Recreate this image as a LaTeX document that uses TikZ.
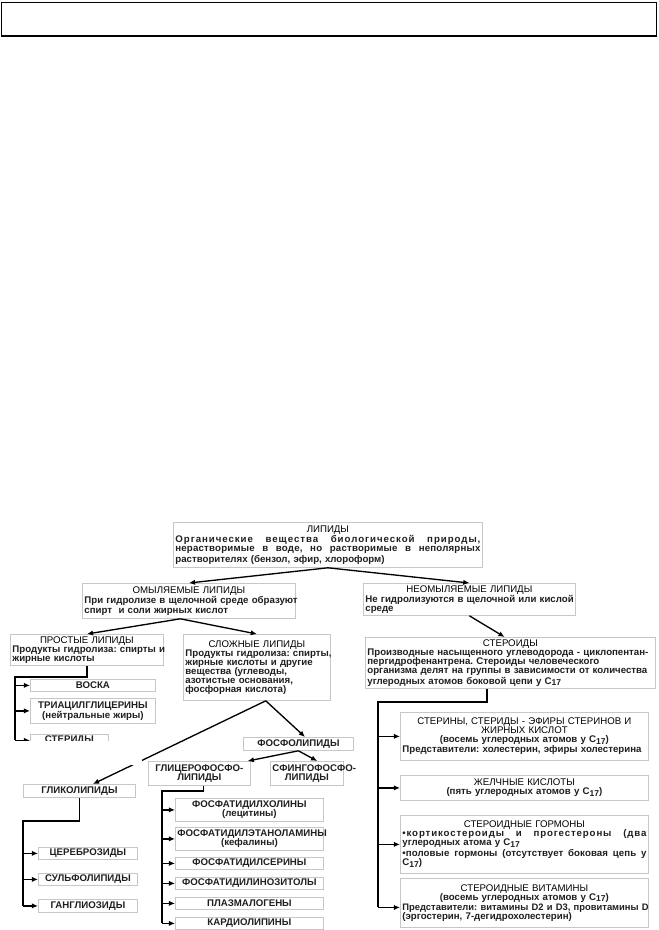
\documentclass[tikz,border=0pt]{standalone}
\usepackage{fontspec}
\setmainfont{Liberation Sans}
\usetikzlibrary{arrows.meta,calc}
\hyphenpenalty=10000
\exhyphenpenalty=10000
\hfuzz=20pt
\newcommand\btitle[1]{{\centering\mdseries\color{black}#1\par}}
\newcommand\bcen[1]{{\centering #1\par}}
\newcommand\bcenx[1]{{\centering #1\par}\vspace{0.9pt}}
\newcommand\lin[1]{\mbox{#1}\par}
\newcommand\jus[2][0]{{\leftskip=0pt\rightskip=0pt\parfillskip=0pt\spaceskip=0pt\xspaceskip=0pt\addfontfeature{LetterSpace=#1}#2\par}}
\newcommand\ssub[1]{\raisebox{-0.3ex}{\fontsize{6.4}{6}\selectfont #1}}
\newcommand\mkbox[6]{%
  \pgfmathsetmacro\bxw{#4*0.75}%
  \pgfmathsetmacro\bxh{#5*0.75}%
  \pgfmathsetmacro\bxt{#4*0.75-3}%
  \node[box, anchor=north west, minimum width=\bxw pt, minimum height=\bxh pt, text width=\bxt pt] (#1) at (#2,#3) {#6};}
\tikzset{
  box/.style={draw=black!22, line width=0.6pt, fill=white, inner xsep=1.5pt, inner ysep=0.5pt,
    align=left, font=\fontsize{7.25}{6.8}\selectfont\bfseries\frenchspacing, text=black!88},
  con/.style={line width=1pt, draw=black},
  arr/.style={con, -{Latex[length=4.6pt,width=4pt]}},
}
\begin{document}
\begin{tikzpicture}[x=0.75pt,y=-0.75pt]
\useasboundingbox (0,0) rectangle (658,930);
\node[draw=black, line width=1pt, anchor=north west, minimum width=491.5pt, minimum height=25pt, inner sep=0pt] (frame) at (0.8,2) {};

\mkbox{lip}{173}{522}{309}{45}{\btitle{ЛИПИДЫ}\jus[10]{Органические вещества биологической природы,}\jus[2]{нерастворимые в воде, но растворимые в неполярных}\lin{растворителях (бензол, эфир, хлороформ)}}
\mkbox{omyl}{82}{583}{213}{35}{\btitle{ОМЫЛЯЕМЫЕ ЛИПИДЫ}\lin{При гидролизе в щелочной среде образуют}\lin{спирт\ \ и соли жирных кислот}}
\mkbox{neomyl}{363}{583}{212}{32}{\btitle{НЕОМЫЛЯЕМЫЕ ЛИПИДЫ}\lin{Не гидролизуются в щелочной или кислой}\lin{среде}}
\mkbox{prost}{10}{634}{153}{31}{\btitle{ПРОСТЫЕ ЛИПИДЫ}\lin{Продукты гидролиза: спирты и}\lin{жирные кислоты}}
\mkbox{slozh}{183}{634}{147}{66}{\btitle{СЛОЖНЫЕ ЛИПИДЫ}\lin{Продукты гидролиза: спирты,}\lin{жирные кислоты и другие}\lin{вещества (углеводы,}\lin{азотистые основания,}\lin{фосфорная кислота)}}
\mkbox{ster}{365}{637}{290}{51}{\btitle{СТЕРОИДЫ}\lin{Производные насыщенного углеводорода - циклопентан-}\lin{пергидрофенантрена. Стероиды человеческого}\lin{организма делят на группы в зависимости от количества}\lin{углеродных атомов боковой цепи у C\ssub{17}}}

\mkbox{voska}{30}{679}{125}{12}{\bcen{ВОСКА}}
\mkbox{triacil}{30}{698}{125}{25}{\bcen{ТРИАЦИЛГЛИЦЕРИНЫ\\(нейтральные жиры)}}
\mkbox{sterid}{30}{734}{78}{12}{\bcen{СТЕРИДЫ}}

\mkbox{fosfo}{243}{737}{110}{13}{\bcen{ФОСФОЛИПИДЫ}}
\mkbox{glico}{148}{761}{102}{24}{\bcen{ГЛИЦЕРОФОСФО-\\ЛИПИДЫ}}
\mkbox{sfingo}{270}{761}{73}{24}{\bcen{СФИНГОФОСФО-\\ЛИПИДЫ}}
\mkbox{gliko}{23}{784}{112}{13}{\bcen{ГЛИКОЛИПИДЫ}}

\mkbox{cereb}{38}{847}{99}{12}{\bcen{ЦЕРЕБРОЗИДЫ}}
\mkbox{sulfo}{38}{873}{99}{12}{\bcen{СУЛЬФОЛИПИДЫ}}
\mkbox{gangl}{38}{899}{99}{13}{\bcen{ГАНГЛИОЗИДЫ}}

\mkbox{fhol}{175}{798}{148}{23}{\bcen{ФОСФАТИДИЛХОЛИНЫ\\(лецитины)}}
\mkbox{feta}{175}{827}{148}{23}{\bcen{ФОСФАТИДИЛЭТАНОЛАМИНЫ\\(кефалины)}}
\mkbox{fser}{175}{857}{148}{12}{\bcen{ФОСФАТИДИЛСЕРИНЫ}}
\mkbox{fino}{175}{877}{148}{12}{\bcen{ФОСФАТИДИЛИНОЗИТОЛЫ}}
\mkbox{plaz}{175}{897}{148}{12}{\bcen{ПЛАЗМАЛОГЕНЫ}}
\mkbox{kard}{175}{917}{148}{12}{\bcen{КАРДИОЛИПИНЫ}}

\mkbox{sterin}{400}{712}{248}{48}{\btitle{СТЕРИНЫ, СТЕРИДЫ - ЭФИРЫ СТЕРИНОВ И\\ЖИРНЫХ КИСЛОТ}\bcenx{(восемь углеродных атомов у C\ssub{17})}\lin{Представители: холестерин, эфиры холестерина}}
\mkbox{zhelch}{400}{775}{248}{25}{\btitle{ЖЕЛЧНЫЕ КИСЛОТЫ}\bcen{(пять углеродных атомов у C\ssub{17})}}
\mkbox{gorm}{400}{815}{248}{58}{\btitle{СТЕРОИДНЫЕ ГОРМОНЫ}\jus[9]{•кортикостероиды и прогестероны (два}\lin{углеродных атома у C\ssub{17}}\vspace{0.6pt}\jus[1]{•половые гормоны (отсутствует боковая цепь у}\lin{C\ssub{17})}}
\mkbox{vitam}{400}{878}{248}{49}{\btitle{СТЕРОИДНЫЕ ВИТАМИНЫ}\bcenx{(восемь углеродных атомов у C\ssub{17})}\lin{\fontsize{7.05}{6.8}\selectfont Представители: витамины D2 и D3, провитамины D}\lin{(эргостерин, 7-дегидрохолестерин)}}

% top level
\draw[arr] (lip.south) -- (omyl.north);
\draw[arr] (lip.south) -- (neomyl.north);
\coordinate (omylb) at ($(omyl.south west)!0.46!(omyl.south east)$);
\draw[arr] (omylb) -- (prost.north);
\draw[arr] (omylb) -- (slozh.north);
\draw[arr] (neomyl.south) -- ($(ster.north west)!0.48!(ster.north east)$);

% complex lipids
\coordinate (slb) at ($(slozh.south west)!0.56!(slozh.south east)$);
\draw[arr] (slb) -- ($(fosfo.north west)!0.56!(fosfo.north east)$);
\draw[arr] (slb) -- ($(gliko.north west)!0.62!(gliko.north east)$);
\draw[arr] (fosfo.south) -- ($(glico.north west)!0.97!(glico.north east)$);
\draw[arr] (fosfo.south) -- ($(sfingo.north west)!0.64!(sfingo.north east)$);

% simple lipids tree
\coordinate (pv) at (15,677);
\draw[con] (prost.south) |- (pv) -- (pv |- sterid.west);
\foreach \n in {voska,triacil,sterid} \draw[arr] (pv |- \n.west) -- (\n.west);

% glycolipids tree
\coordinate (gv) at (23,821);
\draw[con] (gliko.south) |- (gv) -- (gv |- gangl.west);
\foreach \n in {cereb,sulfo,gangl} \draw[arr] (gv |- \n.west) -- (\n.west);

% glycerophospholipids tree
\coordinate (glb) at ($(glico.south west)!0.54!(glico.south east)$);
\coordinate (fv) at (162,791);
\draw[con] (glb) |- (fv) -- (fv |- kard.west);
\foreach \n in {fhol,feta,fser,fino,plaz,kard} \draw[arr] (fv |- \n.west) -- (\n.west);

% steroids tree
\coordinate (stb) at ($(ster.south west)!0.42!(ster.south east)$);
\coordinate (sv) at (378,702);
\coordinate (vt) at ([yshift=-3.4pt]vitam.west);
\draw[con] (stb) |- (sv) -- (sv |- vt);
\foreach \n in {sterin,zhelch,gorm} \draw[arr] (sv |- \n.west) -- (\n.west);
\draw[arr] (sv |- vt) -- (vt);

% cut-off region of the source page
\fill[white] (0,741) rectangle (142,765);
\end{tikzpicture}
\end{document}
